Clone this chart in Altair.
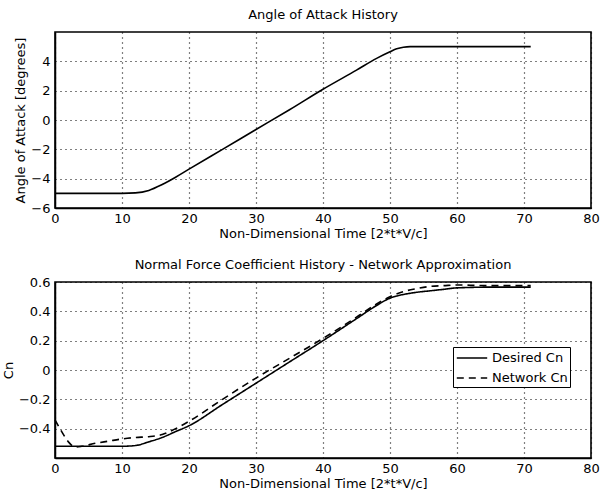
import altair as alt
import pandas as pd

# Angle of attack history
aoa_t = [0, 10, 12, 14, 16, 18, 20, 25, 30, 35, 40, 45, 48, 50, 51, 52, 53, 55, 60, 65, 71]
aoa_v = [-5, -5, -4.97, -4.8, -4.4, -3.9, -3.35, -2.0, -0.65, 0.7, 2.1, 3.4, 4.2, 4.65, 4.85, 4.96, 5.0, 5.0, 5.0, 5.0, 5.0]

# Desired Cn
des_t = [0, 5, 10, 12, 14, 16, 18, 20, 25, 30, 35, 40, 45, 48, 50, 51, 52, 54, 56, 58, 60, 65, 71]
des_v = [-0.52, -0.52, -0.52, -0.515, -0.49, -0.46, -0.42, -0.38, -0.235, -0.09, 0.055, 0.2, 0.35, 0.44, 0.49, 0.505, 0.515, 0.53, 0.54, 0.55, 0.56, 0.565, 0.565]

# Network Cn
net_t = [0, 1, 2, 3, 4, 6, 8, 10, 12, 14, 16, 18, 20, 25, 30, 35, 40, 45, 48, 50, 52, 54, 56, 58, 60, 62, 65, 68, 71]
net_v = [-0.34, -0.42, -0.49, -0.525, -0.52, -0.50, -0.485, -0.47, -0.46, -0.455, -0.44, -0.40, -0.35, -0.2, -0.055, 0.08, 0.215, 0.36, 0.45, 0.5, 0.535, 0.555, 0.57, 0.575, 0.58, 0.578, 0.575, 0.575, 0.575]

series_names = ["Desired Cn", "Network Cn"]
x_ticks = [0, 10, 20, 30, 40, 50, 60, 70, 80]
aoa_ticks = [-6, -4, -2, 0, 2, 4]
cn_ticks = [-0.4, -0.2, 0, 0.2, 0.4, 0.6]

FONT = "DejaVu Sans"
FS = 13
W, H = 536, 176
XTITLE = "Non-Dimensional Time [2*t*V/c]"

aoa_df = pd.DataFrame({"t": aoa_t, "v": aoa_v})
cn_df = pd.concat([
    pd.DataFrame({"t": des_t, "v": des_v, "s": series_names[0]}),
    pd.DataFrame({"t": net_t, "v": net_v, "s": series_names[1]}),
])

common = dict(grid=True, gridDash=[1, 4], gridColor="black", gridOpacity=1, gridWidth=1.2,
              domainColor="black", domainWidth=1.5, ticks=False,
              labelFontSize=FS, titleFontSize=FS, labelFont=FONT, titleFont=FONT,
              labelColor="black", titleColor="black", titleFontWeight="normal",
              labelFlush=False)

def xaxis():
    return alt.Axis(values=x_ticks, title=XTITLE, labelPadding=4, titlePadding=2, **common)

def yaxis(values, title, fmt):
    return alt.Axis(values=values, title=title, format=fmt, labelPadding=5, titlePadding=3, **common)

top = alt.Chart(aoa_df).mark_line(color="black", strokeWidth=1.6, interpolate="monotone").encode(
    x=alt.X("t:Q", scale=alt.Scale(domain=[0, 80], nice=False), axis=xaxis()),
    y=alt.Y("v:Q", scale=alt.Scale(domain=[-6, 6], nice=False),
            axis=yaxis(aoa_ticks, "Angle of Attack [degrees]", "d")),
).properties(width=W, height=H,
             title=alt.TitleParams("Angle of Attack History", fontSize=FS, font=FONT,
                                   fontWeight="normal", color="black", offset=10))

bottom = alt.Chart(cn_df).mark_line(color="black", strokeWidth=1.6, interpolate="monotone").encode(
    x=alt.X("t:Q", scale=alt.Scale(domain=[0, 80], nice=False), axis=xaxis()),
    y=alt.Y("v:Q", scale=alt.Scale(domain=[-0.6, 0.6], nice=False),
            axis=yaxis(cn_ticks, "Cn", "~g")),
    strokeDash=alt.StrokeDash("s:N", scale=alt.Scale(domain=series_names, range=[[1, 0], [7, 5]]),
                              legend=alt.Legend(title=None, orient="none", legendX=398, legendY=315,
                                                fillColor="white", strokeColor="black", padding=2,
                                                symbolType="M-1.9,0H1.9", symbolStrokeColor="black",
                                                symbolStrokeWidth=1.5, symbolSize=256,
                                                symbolOffset=8, labelOffset=11,
                                                labelExpr="datum.label + '     '",
                                                labelFontSize=FS, labelFont=FONT, labelColor="black",
                                                rowPadding=4, cornerRadius=0)),
).properties(width=W, height=H,
             title=alt.TitleParams("Normal Force Coefficient History - Network Approximation",
                                   fontSize=FS, font=FONT, fontWeight="normal", color="black", offset=4))

chart = alt.vconcat(top, bottom, spacing=17).properties(
    padding={"left": 1, "top": 8, "right": 0, "bottom": 5},
    background="white",
).configure_view(stroke="black", strokeWidth=1.6)

chart.save("out.html", embed_options={"renderer": "svg", "actions": False})
